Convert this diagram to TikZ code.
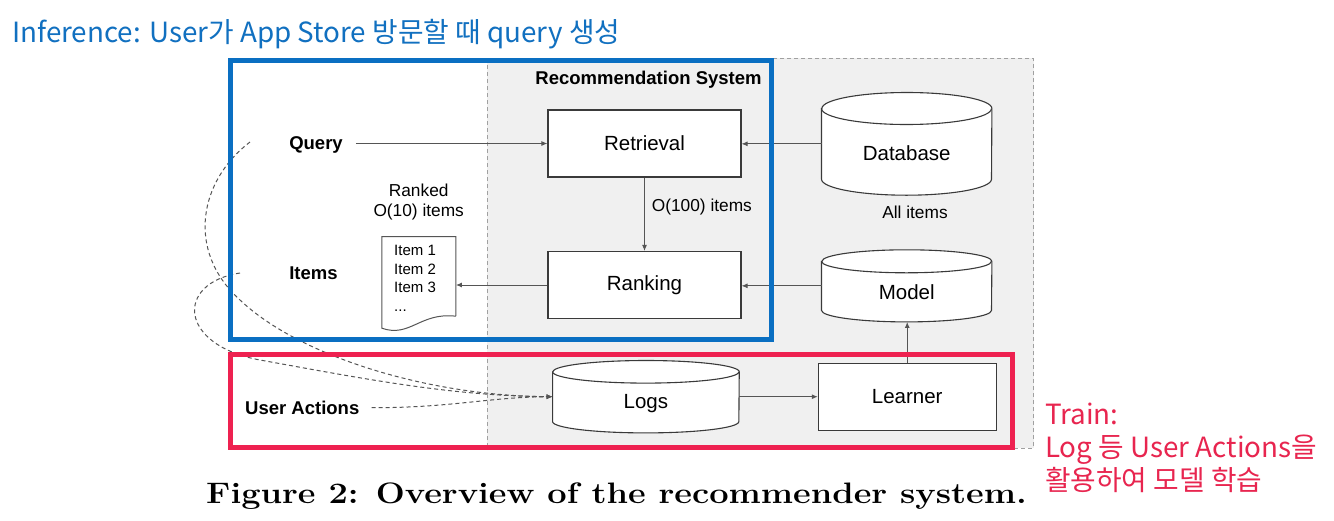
\documentclass[tikz,border=0pt]{standalone}
\usepackage{fontspec}
\newfontfamily\sansf{Liberation Sans}
\newfontfamily\krf{Noto Sans CJK KR}
\usetikzlibrary{arrows.meta}
\definecolor{annblue}{HTML}{0A6FC2}
\definecolor{annred}{HTML}{EE2150}
\definecolor{txtblue}{HTML}{1170C0}
\definecolor{txtred}{HTML}{E8254F}
\definecolor{sysfill}{HTML}{F0F0F0}
\definecolor{sysline}{HTML}{A0A0A0}
\definecolor{edgec}{HTML}{555555}
\definecolor{borderc}{HTML}{3A3A3A}
\tikzset{
  procbox/.style={draw=borderc, line width=1.1pt, fill=white, inner sep=0pt, minimum height=67pt, font=\sansf\fontsize{20.5}{24}\selectfont},
  cylbody/.style={inner sep=0pt, draw=none},
  cyltext/.style={inner sep=0pt, font=\sansf\fontsize{20.5}{24}\selectfont},
  boldlbl/.style={font=\sansf\bfseries\fontsize{18.5}{22}\selectfont, inner sep=0pt},
  smalllbl/.style={font=\sansf\fontsize{17.3}{20.6}\selectfont, inner sep=0pt},
  itemlbl/.style={font=\sansf\fontsize{15}{18}\selectfont, inner sep=0pt, anchor=base west},
  arr/.style={draw=edgec, line width=1pt, -{Latex[length=6pt,width=5pt]}},
  dasharr/.style={draw=edgec, line width=1pt, dash pattern=on 4pt off 3pt, -{Latex[length=6pt,width=5pt]}},
  annbox/.style={line width=5pt},
  krtext/.style={anchor=base west, inner sep=0pt, font=\krf\fontsize{27.8}{32}\selectfont},
}
\newcommand{\drawcyl}[3]{%
  \draw[draw=borderc, line width=1.1pt, fill=white] ([yshift=-#3pt]#1.north west) -- ([yshift=#3pt]#1.south west) arc[start angle=180,end angle=360,x radius=#2pt,y radius=#3pt] -- ([yshift=-#3pt]#1.north east) arc[start angle=0,end angle=180,x radius=#2pt,y radius=#3pt] -- cycle;
  \draw[draw=borderc, line width=1.1pt] ([yshift=-#3pt]#1.north west) arc[start angle=180,end angle=360,x radius=#2pt,y radius=#3pt];
}
\begin{document}
\begin{tikzpicture}[x=1pt,y=-1pt]
\useasboundingbox (0,0) rectangle (1334,520);
\fill[white] (0,0) rectangle (1334,520);
% system region
\draw[sysline, fill=sysfill, line width=0.9pt, dash pattern=on 4pt off 3pt] (487,58.3) rectangle (1033.5,448);
\node[boldlbl] (systitle) at (648.5,79.5) {Recommendation System};

% boxes
\node[procbox, minimum width=193pt] (ret) at (644.5,143.5) {Retrieval};
\node[procbox, minimum width=193pt] (rank) at (644.5,285) {Ranking};
\node[procbox, minimum width=177.7pt] (learner) at (907.2,396.7) {Learner};

% cylinders
\node[cylbody, minimum width=170pt, minimum height=102.3pt] (db) at (906.7,143.85) {};
\node[cylbody, minimum width=170pt, minimum height=71.7pt] (model) at (906.7,285.85) {};
\node[cylbody, minimum width=186.3pt, minimum height=72pt] (logs) at (645.9,396.7) {};
\drawcyl{db}{85}{16}
\drawcyl{model}{85}{11.5}
\drawcyl{logs}{93.15}{11.3}
\node[cyltext] (dbt) at ([yshift=-9.15pt]db.center) {Database};
\node[cyltext] (modelt) at ([yshift=-6.8pt]model.center) {Model};
\node[cyltext] (logst) at ([yshift=-6.6pt]logs.center) {Logs};
\node[smalllbl] (allit) at (915,212.3) {All items};
\node[smalllbl, anchor=west] (o100) at (651.7,206.7) {O(100) items};

% document
\node[inner sep=0pt, minimum width=73.7pt, minimum height=79.3pt] (doc) at (418.85,276.35) {};
\draw[edgec, line width=1pt, fill=white] (doc.south east) -- (doc.north east) -- (doc.north west) -- ([yshift=-12pt]doc.south west) .. controls (410,338) and (420,312) .. (doc.south east);
\node[itemlbl] (i1) at (394,255.5) {Item 1};
\node[itemlbl] (i2) at (394,274) {Item 2};
\node[itemlbl] (i3) at (394,292.5) {Item 3};
\node[itemlbl] (i4) at (394,311) {...};

% left labels
\node[boldlbl, inner xsep=13pt] (query) at (316,145) {Query};
\node[boldlbl] (itemsl) at (313.5,273) {Items};
\node[boldlbl, inner xsep=12pt, anchor=west] (user) at (233,407.7) {User Actions};
\node[smalllbl, align=center] (ranked) at (418.7,202) {Ranked\\O(10) items};

% arrows
\draw[arr] (query.east |- ret.west) -- (ret.west);
\draw[arr] (db.west) -- (db.west -| ret.east);
\draw[arr] (ret.south) -- (rank.north);
\draw[arr] (model.west) -- (model.west -| rank.east);
\draw[arr] (rank.west) -- (rank.west -| doc.east);
\draw[arr] (logs.east) -- (logs.east -| learner.west);
\draw[arr] (learner.north) -- (learner.north |- model.south);

% dashed feedback curves
\coordinate (qdash) at (250,142);
\coordinate (idash) at (240,273);
\draw[dasharr] (qdash) .. controls (200,180) and (185,250) .. (240,300) .. controls (300,357) and (430,396) .. (logs.west);
\draw[dasharr] (idash) .. controls (175,283) and (178,345) .. (260,360) .. controls (360,378) and (450,396) .. (logs.west);
\draw[dasharr] (user.east) .. controls (450,408) and (490,397) .. (logs.west);

% annotation boxes
\draw[annblue, annbox] (230,60) rectangle (771.5,339.5);
\draw[annred, annbox] (230,354) rectangle (1012.5,447.5);

% annotation texts
\node[krtext, text=txtblue] (title) at (12,42) {Inference: User가 App Store 방문할 때 query 생성};
\node[krtext, text=txtred] (tr1) at (1045,424) {Train:};
\node[krtext, text=txtred] (tr2) at (1045,457.5) {Log 등 User Actions을};
\node[krtext, text=txtred] (tr3) at (1045,490) {활용하여 모델 학습};

% caption
\node[anchor=base west, inner sep=0pt, font=\fontsize{29.6}{34}\selectfont\bfseries] (caption) at (206,503) {\scalebox{1.162}[1]{Figure 2: Overview of the recommender system.}};
\end{tikzpicture}
\end{document}
